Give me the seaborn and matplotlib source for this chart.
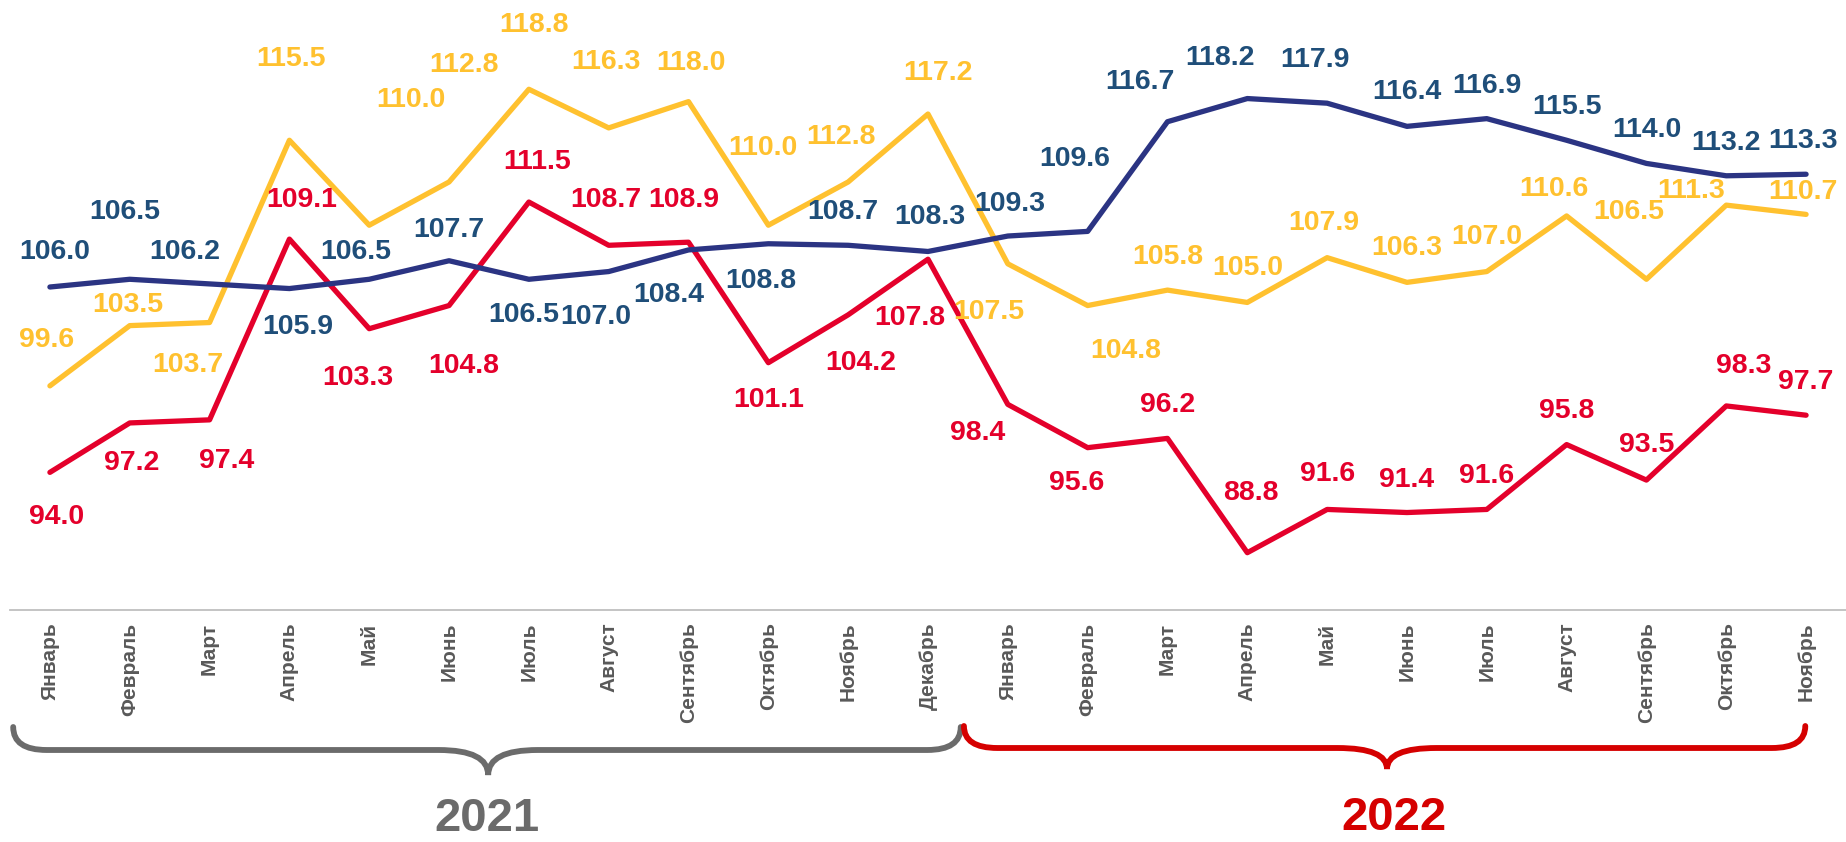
import numpy as np
import matplotlib
matplotlib.use("Agg")
import matplotlib.pyplot as plt
from matplotlib.path import Path
from matplotlib.patches import PathPatch
from matplotlib.transforms import blended_transform_factory
import seaborn as sns

# данные
months = ["Январь", "Февраль", "Март", "Апрель", "Май", "Июнь", "Июль", "Август",
          "Сентябрь", "Октябрь", "Ноябрь", "Декабрь",
          "Январь", "Февраль", "Март", "Апрель", "Май", "Июнь", "Июль", "Август",
          "Сентябрь", "Октябрь", "Ноябрь"]
navy_vals = [106.0, 106.5, 106.2, 105.9, 106.5, 107.7, 106.5, 107.0, 108.4, 108.8, 108.7, 108.3,
             109.3, 109.6, 116.7, 118.2, 117.9, 116.4, 116.9, 115.5, 114.0, 113.2, 113.3]
yellow_vals = [99.6, 103.5, 103.7, 115.5, 110.0, 112.8, 118.8, 116.3, 118.0, 110.0, 112.8, 117.2,
               107.5, 104.8, 105.8, 105.0, 107.9, 106.3, 107.0, 110.6, 106.5, 111.3, 110.7]
red_vals = [94.0, 97.2, 97.4, 109.1, 103.3, 104.8, 111.5, 108.7, 108.9, 101.1, 104.2, 107.8,
            98.4, 95.6, 96.2, 88.8, 91.6, 91.4, 91.6, 95.8, 93.5, 98.3, 97.7]
years = ["2021", "2022"]

# смещения подписей (пиксели: dx, dy вниз)
navy_off = [(5, -35), (-5, -67), (-25, -32), (8, 38), (-13, -27), (0, -31), (-5, 36), (-13, 45),
            (-20, 45), (-8, 37), (-5, -33), (2, -34), (2, -32), (-13, -72), (-28, -40), (-27, -41),
            (-12, -43), (0, -34), (0, -33), (0, -33), (0, -33), (0, -33), (-3, -33)]
yellow_off = [(-3, -46), (-2, -21), (-22, 42), (2, -81), (42, -125), (15, -117), (5, -64), (-3, -66),
              (2, -39), (-5, -77), (-7, -45), (10, -41), (-19, 48), (38, 45), (0, -33), (0, -34),
              (-3, -35), (0, -34), (0, -35), (-13, -27), (-18, -67), (-35, -14), (-3, -22)]
red_off = [(7, 45), (2, 40), (17, 41), (12, -39), (-11, 49), (15, 60), (8, -40), (-3, -45),
           (-5, -42), (0, 37), (13, 48), (-18, 59), (-30, 29), (-11, 35), (0, -33), (4, -60),
           (0, -35), (0, -33), (0, -33), (0, -34), (0, -35), (17, -40), (0, -33)]

series = [
    (yellow_vals, yellow_off, "#FFC12F", "#FFC12F"),
    (red_vals, red_off, "#E4002B", "#E4002B"),
    (navy_vals, navy_off, "#2B3483", "#1F4E79"),
]

sns.set_style("white")
plt.rcParams["font.family"] = ["Liberation Sans", "DejaVu Sans"]

W, H = 1846, 842
fig = plt.figure(figsize=(W / 100, H / 100), dpi=100)
ax = fig.add_axes([10 / W, (H - 610) / H, (W - 10) / W, 610 / H])

x = np.arange(len(months))
for vals, offs, line_c, text_c in series:
    sns.lineplot(x=x, y=vals, ax=ax, color=line_c, linewidth=3.8, zorder=2)
    for xi, v, (dx, dy) in zip(x, vals, offs):
        ax.annotate(f"{v:.1f}", (xi, v), xytext=(dx, -dy), textcoords="offset pixels",
                    ha="center", va="center", fontsize=20.5, fontweight="bold",
                    color=text_c, zorder=3)

ax.set_xlim(-0.5, -0.5 + (W - 10) / 80)
ax.set_ylim(85.09, 124.58)
ax.set_yticks([])
for s in ["left", "right", "top"]:
    ax.spines[s].set_visible(False)
ax.spines["bottom"].set_color("#bfbfbf")
ax.spines["bottom"].set_linewidth(1.3)

ax.set_xticks(x)
ax.set_xticklabels(months, rotation=90, fontsize=15, fontweight="bold", color="#595959")
ax.tick_params(axis="x", which="major", length=0, pad=9)
ax.set_xticks(np.arange(-0.5, 23, 1), minor=True)
ax.tick_params(axis="x", which="minor", length=7.5, width=1.2, color="#bfbfbf")
ax.set_xlabel("")
ax.set_ylabel("")


# фигурные скобки под осью
def brace(x0, x1, xm, y_top, y_bar, y_tip, color):
    e, c = 0.42, 0.62
    verts = [(x0, y_top), (x0, y_bar), (x0 + e, y_bar),
             (xm - c, y_bar),
             (xm, y_bar), (xm, y_tip),
             (xm, y_bar), (xm + c, y_bar),
             (x1 - e, y_bar),
             (x1, y_bar), (x1, y_top)]
    codes = [Path.MOVETO, Path.CURVE3, Path.CURVE3,
             Path.LINETO,
             Path.CURVE3, Path.CURVE3,
             Path.CURVE3, Path.CURVE3,
             Path.LINETO,
             Path.CURVE3, Path.CURVE3]
    tr = blended_transform_factory(ax.transData, fig.transFigure)
    patch = PathPatch(Path(verts, codes), facecolor="none", edgecolor=color,
                      linewidth=4.2, transform=tr, clip_on=False, capstyle="round")
    fig.add_artist(patch)


brace(-0.46, 11.41, 5.49, 1 - 727 / H, 1 - 750 / H, 1 - 775 / H, "#6b6b6b")
brace(11.45, 21.99, 16.75, 1 - 726 / H, 1 - 748 / H, 1 - 769 / H, "#D50000")

fig.text(487 / W, 1 - 819 / H, years[0], ha="center", va="center", fontsize=34,
         fontweight="bold", color="#6b6b6b")
fig.text(1394 / W, 1 - 818 / H, years[1], ha="center", va="center", fontsize=34,
         fontweight="bold", color="#D50000")

fig.savefig("out.png", dpi=100)
